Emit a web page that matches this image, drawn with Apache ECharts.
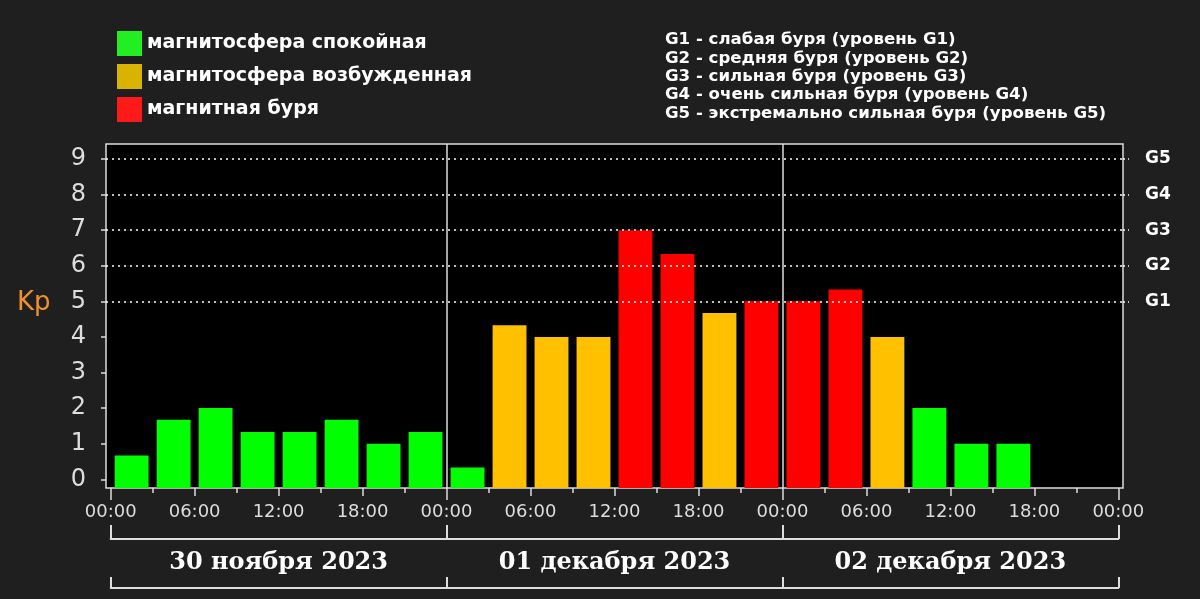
<!DOCTYPE html>
<html><head><meta charset="utf-8">
<script src="https://cdn.jsdelivr.net/npm/echarts@6/dist/echarts.min.js"></script>
<style>html,body{margin:0;padding:0;background:#1f1f1f}#c{width:1200px;height:599px}</style>
</head><body><div id="c"></div>
<script>
// ---- data ----
const barHours = [1.5,4.5,7.5,10.5,13.5,16.5,19.5,22.5, 25.5,28.5,31.5,34.5,37.5,40.5,43.5,46.5, 49.5,52.5,55.5,58.5,61.5,64.5];
const kpValues = [0.67,1.67,2,1.33,1.33,1.67,1,1.33, 0.33,4.33,4,4,7,6.33,4.67,5, 5,5.33,4,2,1,1];
const kpLevel  = [0,0,0,0,0,0,0,0, 0,1,1,1,2,2,1,2, 2,2,1,0,0,0];
const seriesNames = ['магнитосфера спокойная','магнитосфера возбужденная','магнитная буря'];
const barColors = ['#00ff00','#ffc000','#ff0000'];
const legendColors = ['#22ee22','#d8b400','#ff1a1a'];
const yTicks = [0,1,2,3,4,5,6,7,8,9];
const gLevels = [5,6,7,8,9];
const gLabels = ['G1','G2','G3','G4','G5'];
const hourTicks = [0,6,12,18,24,30,36,42,48,54,60,66,72];
const minorHourTicks = [0,3,6,9,12,15,18,21,24,27,30,33,36,39,42,45,48,51,54,57,60,63,66,69,72];
const dayTicks = [0,24,48,72];
const dayMids = [12,36,60];
const dayLabels = ['30 ноября 2023','01 декабря 2023','02 декабря 2023'];
const gDescriptions = [
  'G1 - слабая буря (уровень G1)',
  'G2 - средняя буря (уровень G2)',
  'G3 - сильная буря (уровень G3)',
  'G4 - очень сильная буря (уровень G4)',
  'G5 - экстремально сильная буря (уровень G5)'
];

// ---- chart ----
const X_MIN = -0.333, X_MAX = 72.333;
const Y_MIN = -0.245, Y_MAX = 9.42;
const HALF = 1.21;
const chart = echarts.init(document.getElementById('c'), null, {renderer:'canvas'});

function renderBar(params, api){
  const x = api.value(0), y = api.value(1);
  const tl = api.coord([x - HALF, y]);
  const br = api.coord([x + HALF, Y_MIN]);
  return {type:'rect', shape:{x:tl[0], y:tl[1], width:br[0]-tl[0], height:br[1]-tl[1]},
          style:{fill: api.visual('color')}};
}

const series = seriesNames.map((name, si) => ({
  type:'custom', name, xAxisIndex:0, yAxisIndex:0,
  itemStyle:{color: barColors[si]},
  renderItem: renderBar,
  encode:{x:0, y:1},
  data: barHours.map((h,i)=>[h,kpValues[i],kpLevel[i]]).filter(d=>d[2]===si).map(d=>[d[0],d[1]]),
  z: 3
}));
series[0].markLine = {
  silent:true, symbol:'none', label:{show:false}, animation:false,
  data: [
    ...gLevels.map(v=>({yAxis:v, lineStyle:{type:[2,4], color:'#ffffff', width:1.5}})),
    {xAxis:24, lineStyle:{type:'solid', color:'#dddddd', width:1.5}},
    {xAxis:48, lineStyle:{type:'solid', color:'#dddddd', width:1.5}}
  ]
};

const fmtHour = v => String(Math.round(v)%24).padStart(2,'0') + ':00';
const baseX = {type:'value', min:X_MIN, max:X_MAX, gridIndex:0, position:'bottom', splitLine:{show:false}};

chart.setOption({
  animation:false,
  backgroundColor:'#1f1f1f',
  title:[
    {text: gDescriptions.join('\n'), left:660, top:26,
     textStyle:{color:'#ffffff', fontSize:16.6, fontWeight:'bold', fontFamily:'DejaVu Sans', lineHeight:18.3}},
    {text:'Kp', left:12, top:285, textStyle:{color:'#f0902a', fontSize:26, fontWeight:'normal', fontFamily:'DejaVu Sans'}}
  ],
  legend:{
    orient:'vertical', left:112, top:26, itemWidth:25, itemHeight:25, itemGap:8,
    icon:'rect', selectedMode:false,
    textStyle:{color:'#ffffff', fontSize:19, fontWeight:'bold', fontFamily:'DejaVu Sans', padding:[0,0,0,0]},
    data: seriesNames.map((n,i)=>({name:n, itemStyle:{color:legendColors[i]}}))
  },
  grid:[
    {left:106, right:77, top:144, bottom:111, show:true, backgroundColor:'#000000', borderColor:'#dddddd', borderWidth:1.5},
    {left:110.7, right:81.7, top:525, height:14, show:false}
  ],
  xAxis:[
    Object.assign({}, baseX, {
      axisLine:{show:false, onZero:false},
      axisTick:{show:true, customValues:hourTicks, length:8, lineStyle:{color:'#dddddd', width:1.5}},
      axisLabel:{show:true, customValues:hourTicks, formatter:fmtHour, color:'#dddddd', fontSize:18, fontFamily:'DejaVu Sans', margin:15}
    }),
    Object.assign({}, baseX, {
      axisLine:{show:false, onZero:false},
      axisTick:{show:true, customValues:minorHourTicks, length:5, lineStyle:{color:'#dddddd', width:1.5}},
      axisLabel:{show:false}
    }),
    Object.assign({}, baseX, {
      axisLine:{show:false, onZero:false},
      axisTick:{show:true, customValues:dayTicks, length:12, lineStyle:{color:'#dddddd', width:1.5}},
      axisLabel:{show:false}
    }),
    {type:'value', gridIndex:1, min:0, max:72, position:'bottom', splitLine:{show:false},
     axisLine:{show:true, onZero:false, lineStyle:{color:'#dddddd', width:2}},
     axisTick:{show:true, inside:true, customValues:dayTicks, length:14, lineStyle:{color:'#dddddd', width:2}},
     axisLabel:{show:true, customValues:dayMids, formatter:v=>dayLabels[dayMids.indexOf(Math.round(v))],
       color:'#ffffff', fontSize:24, fontWeight:'bold', fontFamily:'DejaVu Serif', margin:12}},
    {type:'value', gridIndex:1, min:0, max:72, position:'bottom', offset:49, splitLine:{show:false},
     axisLine:{show:true, onZero:false, lineStyle:{color:'#dddddd', width:2}},
     axisTick:{show:true, inside:true, customValues:dayTicks, length:11, lineStyle:{color:'#dddddd', width:2}},
     axisLabel:{show:false}}
  ],
  yAxis:[
    {type:'value', gridIndex:0, min:Y_MIN, max:Y_MAX, position:'left', splitLine:{show:false},
     axisLine:{show:false, onZero:false},
     axisTick:{show:true, customValues:yTicks, length:5, lineStyle:{color:'#dddddd', width:1.5}},
     axisLabel:{show:true, customValues:yTicks, color:'#dddddd', fontSize:24, fontFamily:'DejaVu Sans', margin:20}},
    {type:'value', gridIndex:0, min:Y_MIN, max:Y_MAX, position:'right', splitLine:{show:false},
     axisLine:{show:false, onZero:false},
     axisTick:{show:true, customValues:gLevels, length:6, lineStyle:{color:'#ffffff', width:1.5, type:[2,3]}},
     axisLabel:{show:true, customValues:gLevels, formatter:v=>gLabels[gLevels.indexOf(Math.round(v))],
       color:'#ffffff', fontSize:17, fontWeight:'bold', fontFamily:'DejaVu Sans', margin:22}},
    {type:'value', gridIndex:1, show:false}
  ],
  series
});
</script>
</body></html>
